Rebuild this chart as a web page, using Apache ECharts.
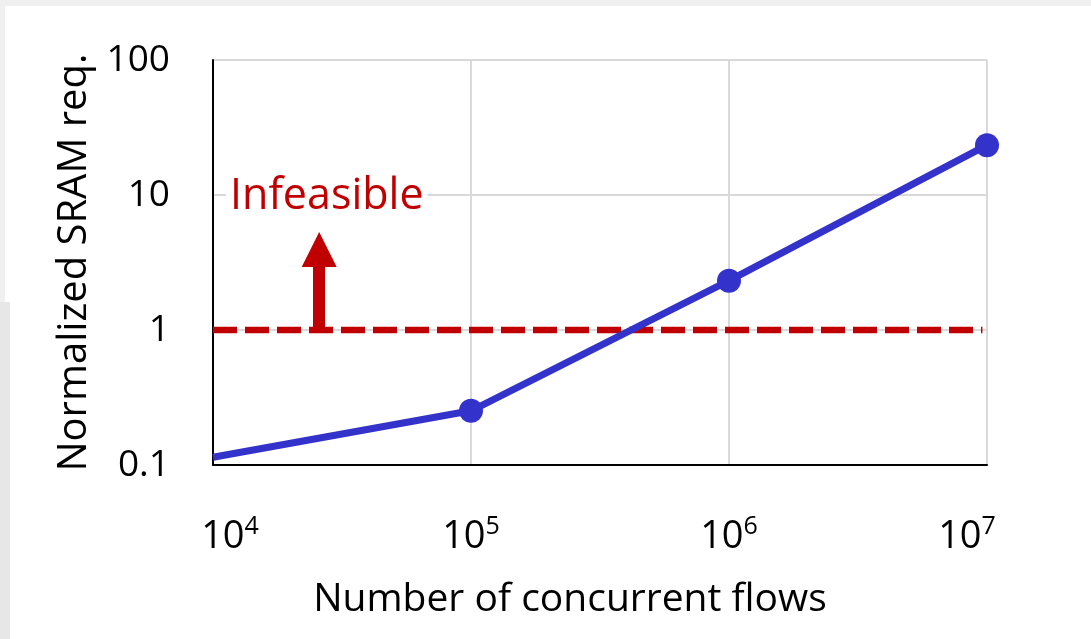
<!DOCTYPE html>
<html>
<head>
<meta charset="utf-8">
<script src="https://cdn.jsdelivr.net/npm/echarts@6/dist/echarts.min.js"></script>
<style>
  html, body { margin: 0; padding: 0; width: 1091px; height: 639px; overflow: hidden; background: #f0f0f0; }
  #panel { position: absolute; left: 5px; top: 6px; right: 0; bottom: 0; background: #ffffff; }
  #strip { position: absolute; left: 0; top: 302px; width: 10px; bottom: 0; background: #e7e7e7; }
  #chart { position: absolute; left: 0; top: 0; width: 1091px; height: 639px; }
</style>
</head>
<body>
<div id="panel"></div>
<div id="strip"></div>
<div id="chart"></div>
<script>
// ---- data ----
const flows = [1e4, 1e5, 1e6, 1e7];            // number of concurrent flows
const sramReq = [0.114, 0.252, 2.32, 23.4];     // normalized SRAM requirement
const markerShown = [false, true, true, true];
const feasibleLimitX = [1e4, 9.6e6];            // extent of the dashed limit line
const feasibleLimitY = [1, 1];
const arrowX = 25800;                            // arrow annotation position
const arrowY = [1, 3.95];
const xTickExponents = [4, 5, 6, 7];
const yTickLabels = { '0.1': '0.1', '1': '1', '10': '10', '100': '100' };
const annotationText = 'Infeasible';

const FONT = '"Open Sans", "Noto Sans", sans-serif';
const RED = '#C00000';
const BLUE = '#3333CC';

const chart = echarts.init(document.getElementById('chart'), null, { renderer: 'canvas' });

function yLabel(v) {
  const key = v < 1 ? v.toFixed(1) : String(Math.round(v));
  return yTickLabels[key] !== undefined ? yTickLabels[key] : key;
}
function xLabel(v) {
  const e = Math.round(Math.log10(v));
  if (xTickExponents.indexOf(e) < 0) return '';
  if (e === xTickExponents[0]) return '{spL| }{b|10}{s|' + e + '}';
  if (e === xTickExponents[xTickExponents.length - 1]) return '{b|10}{s|' + e + '}{spR| }';
  return '{b|10}{s|' + e + '}';
}

const option = {
  animation: false,
  backgroundColor: 'transparent',
  textStyle: { fontFamily: FONT },
  grid: { left: 213, right: 104, top: 60, bottom: 174, containLabel: false },
  xAxis: {
    type: 'log',
    logBase: 10,
    min: 1e4,
    max: 1e7,
    name: 'Number of concurrent flows',
    nameLocation: 'middle',
    nameGap: 115,
    nameTextStyle: { fontFamily: FONT, fontSize: 39, color: '#000', padding: [0, 60, 0, 0] },
    axisLine: { show: true, lineStyle: { color: '#000', width: 2 } },
    axisTick: { show: false },
    splitLine: { show: true, lineStyle: { color: '#d9d9d9', width: 2 } },
    minorTick: { show: false },
    axisLabel: {
      margin: 49,
      formatter: xLabel,
      rich: {
        b: { fontFamily: FONT, fontSize: 38, color: '#000', lineHeight: 46 },
        s: { fontFamily: FONT, fontSize: 25, color: '#000', verticalAlign: 'top', lineHeight: 28 },
        spL: { width: 34, fontSize: 10 },
        spR: { width: 40, fontSize: 10 }
      }
    }
  },
  yAxis: {
    type: 'log',
    logBase: 10,
    min: 0.1,
    max: 100,
    name: 'Normalized SRAM req.',
    nameLocation: 'middle',
    nameRotate: 90,
    nameGap: 118,
    nameTextStyle: { fontFamily: FONT, fontSize: 40, color: '#000' },
    axisLine: { show: true, lineStyle: { color: '#000', width: 2 } },
    axisTick: { show: false },
    splitLine: { show: true, lineStyle: { color: '#d9d9d9', width: 2 } },
    axisLabel: {
      margin: 43,
      formatter: yLabel,
      fontFamily: FONT,
      fontSize: 37,
      color: '#000'
    }
  },
  graphic: [
    {
      type: 'text',
      left: 226,
      top: 175,
      z: 100,
      style: {
        text: annotationText, fontFamily: FONT, fontSize: 43, fill: RED,
        backgroundColor: '#ffffff', padding: [0, 4, 0, 4]
      }
    }
  ],
  series: [
    {
      name: 'limit',
      type: 'line',
      data: feasibleLimitX.map((x, i) => [x, feasibleLimitY[i]]),
      symbol: 'none',
      silent: true,
      z: 2,
      lineStyle: { color: RED, width: 6.5, type: [24, 8], cap: 'butt' },
      markLine: {
        silent: true,
        symbol: ['none', 'triangle'],
        symbolSize: [35, 35],
        label: { show: false },
        lineStyle: { color: RED, width: 12, type: 'solid', cap: 'butt' },
        itemStyle: { color: RED },
        emphasis: { disabled: true },
        data: [[{ coord: [arrowX, arrowY[0]] }, { coord: [arrowX, arrowY[1]] }]]
      }
    },
    {
      name: 'SRAM',
      type: 'line',
      z: 3,
      data: flows.map((x, i) => ({
        value: [x, sramReq[i]],
        symbol: markerShown[i] ? 'circle' : 'none'
      })),
      symbolSize: 24,
      showSymbol: true,
      itemStyle: { color: BLUE },
      lineStyle: { color: BLUE, width: 7 }
    }
  ]
};

chart.setOption(option);
</script>
</body>
</html>
